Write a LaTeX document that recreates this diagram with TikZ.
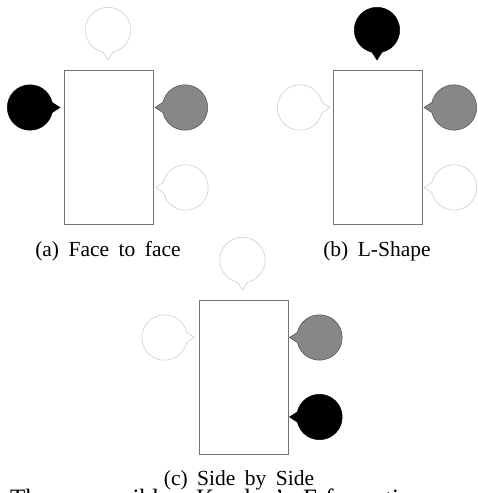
\documentclass[tikz,border=0pt]{standalone}
\usepackage{fontspec}
\setmainfont{Liberation Serif}
\usetikzlibrary{calc}
\tikzset{
  whitebub/.style={draw=black!22, line width=0.5pt, fill=white},
  graybub/.style={draw=black!70, line width=0.5pt, fill=black!47},
  blackbub/.style={draw=black, line width=0.5pt, fill=black},
  tablebox/.style={draw=black!55, line width=0.8pt, fill=white, inner sep=0pt,
    minimum width=89pt, minimum height=154pt, anchor=north west},
  subcap/.style={inner sep=0pt, anchor=base,
    font={\fontsize{21.5}{25}\selectfont\spaceskip=9.5pt\relax}},
  bodytext/.style={inner sep=0pt, anchor=base west,
    font={\fontsize{25}{29}\selectfont}}
}
% #1 = centre coordinate, #2 = direction of the pointer, #3 = style
\newcommand{\bubbleat}[3]{%
  \pgfmathsetmacro{\bsa}{#2+13}%
  \pgfmathsetmacro{\bea}{#2+347}%
  \draw[#3] ($(#1)+(\bsa:22.7)$) arc[start angle=\bsa, end angle=\bea, radius=22.7]
    -- ($(#1)+(#2:30)$) -- cycle;}
\begin{document}
\begin{tikzpicture}[x=1pt,y=1pt]
\useasboundingbox (0,0) rectangle (477,493);
\clip (0,0) rectangle (477,493);
% ---------- (a) Face to face ----------
\node[tablebox] (ta) at (64,423) {};
\coordinate (a1) at (108,463);
\coordinate (a2) at (30,385.5);
\coordinate (a3) at (185,385.5);
\coordinate (a4) at (185.5,305.5);
\bubbleat{a1}{270}{whitebub}
\bubbleat{a2}{0}{blackbub}
\bubbleat{a3}{180}{graybub}
\bubbleat{a4}{180}{whitebub}
\node[subcap] (capa) at (108,236.4) {(a) Face to face};
% ---------- (b) L-Shape ----------
\node[tablebox] (tb) at (333,423) {};
\coordinate (b1) at (377,463);
\coordinate (b2) at (300,385.5);
\coordinate (b3) at (454,385.5);
\coordinate (b4) at (454,305.5);
\bubbleat{b1}{270}{blackbub}
\bubbleat{b2}{0}{whitebub}
\bubbleat{b3}{180}{graybub}
\bubbleat{b4}{180}{whitebub}
\node[subcap] (capb) at (377,236.4) {(b) L-Shape};
% ---------- (c) Side by Side ----------
\node[tablebox] (tc) at (199,193) {};
\coordinate (c1) at (242.5,233);
\coordinate (c2) at (164.5,155.5);
\coordinate (c3) at (319.5,155.5);
\coordinate (c4) at (319.5,76);
\bubbleat{c1}{270}{whitebub}
\bubbleat{c2}{0}{whitebub}
\bubbleat{c3}{180}{graybub}
\bubbleat{c4}{180}{blackbub}
\node[subcap] (capc) at (239,7.4) {(c) Side by Side};
% ---------- cut-off body text ----------
\node[bodytext] (w1) at (10,-13) {Three};
\node[bodytext] (w2) at (88,-13) {possible};
\node[bodytext] (w3) at (196,-13) {Kendon's};
\node[bodytext] (w4) at (303,-13) {F-formations};
\end{tikzpicture}
\end{document}
